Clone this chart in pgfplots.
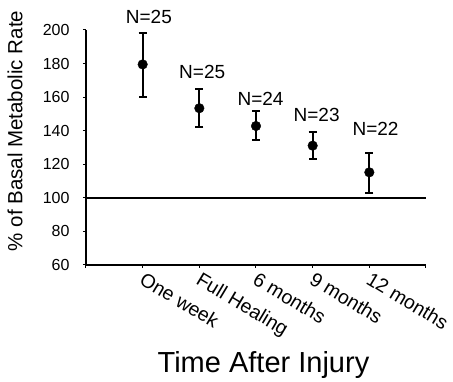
\documentclass[border=0pt]{standalone}
\usepackage{pgfplots}
\pgfplotsset{compat=1.18}
\usepackage{fontspec}
\setmainfont{Liberation Sans}
\begin{document}
\begin{tikzpicture}
\begin{axis}[
  name=ax,
  scale only axis,
  width=340pt, height=235pt,
  xmin=0, xmax=6, ymin=60, ymax=200,
  axis x line*=bottom, axis y line*=left,
  axis line style={line width=2pt, -},
  xtick={0,1,2,3,4,5,6},
  xticklabels={,One week,Full Healing,6 months,9 months,12 months,},
  x tick label style={font=\fontsize{19.5}{21}\selectfont, rotate=-31, anchor=north west, inner sep=1pt, xshift=3pt},
  ytick={60,80,...,200},
  y tick label style={font=\fontsize{16}{18}\selectfont, xshift=-10pt},
  /pgf/number format/assume math mode=true,
  x tick style={line width=1pt, black},
  y tick style={line width=1pt, black},
  xtick align=outside, ytick align=outside,
  major tick length=3pt,
  clip=false,
  xlabel={Time After Injury},
  xlabel style={font=\fontsize{29}{33}\selectfont, at={(axis description cs:0.522,0)}, anchor=north, yshift=-83pt},
  ylabel={\% of Basal Metabolic Rate},
  ylabel style={font=\fontsize{20.5}{24}\selectfont, at={(axis description cs:0,0.57)}, anchor=south, yshift=60pt},
]
\addplot[black, line width=2pt, forget plot] coordinates {(0,100) (6,100)};
\addplot[black, only marks, mark=*, mark size=4.8pt,
  error bars/.cd, y dir=both, y explicit,
  error bar style={line width=2pt, black},
  error mark options={rotate=90, mark size=4pt, line width=2pt, black}]
  table[x=x, y=y, y error plus=ep, y error minus=em] {
x y ep em
1 179.5 18.9 19.2
2 153.4 11.3 11.2
3 142.8 8.8 8.5
4 131.1 8.0 7.9
5 115.2 11.5 12.1
};
\node[font=\fontsize{19}{21}\selectfont] at (axis cs:1.11,207.7) {N=25};
\node[font=\fontsize{19}{21}\selectfont] at (axis cs:2.05,175.2) {N=25};
\node[font=\fontsize{19}{21}\selectfont] at (axis cs:3.08,158.7) {N=24};
\node[font=\fontsize{19}{21}\selectfont] at (axis cs:4.07,149.4) {N=23};
\node[font=\fontsize{19}{21}\selectfont] at (axis cs:5.11,140.9) {N=22};
\end{axis}
\pgfresetboundingbox
\path (ax.south west) ++(-86pt,-117pt) rectangle ++(453pt,382pt);
\end{tikzpicture}
\end{document}
